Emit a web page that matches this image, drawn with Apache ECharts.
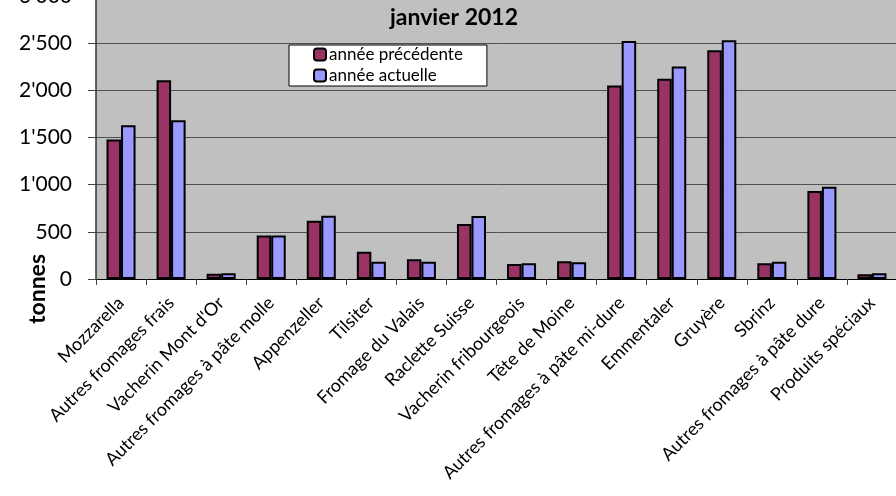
<!DOCTYPE html>
<html><head><meta charset="utf-8">
<script src="https://cdn.jsdelivr.net/npm/echarts@6/dist/echarts.min.js"></script>
<style>html,body{margin:0;padding:0;background:#fff}#c{width:896px;height:496px}</style>
</head><body><div id="c"></div>
<script>
const categories = ["Mozzarella","Autres fromages frais","Vacherin Mont d'Or","Autres fromages à pâte molle","Appenzeller","Tilsiter","Fromage du Valais","Raclette Suisse","Vacherin fribourgeois","Tête de Moine","Autres fromages à pâte mi-dure","Emmentaler","Gruyère","Sbrinz","Autres fromages à pâte dure","Produits spéciaux"];
const seriesNames = ["année précédente","année actuelle"];
const previousYear = [1480,2108,55,462,618,289,209,583,159,187,2052,2122,2426,166,932,50];
const currentYear = [1631,1684,60,462,671,183,183,667,166,177,2524,2253,2532,183,978,60];
const title = "janvier 2012";
const yAxisTitle = "tonnes";

const chart = echarts.init(document.getElementById('c'), null, {renderer:'canvas'});
const FONT = 'Lato';
function fmt(v){ return String(v).replace(/\B(?=(\d{3})+(?!\d))/g, "'"); }
chart.setOption({
  animation:false,
  backgroundColor:'#fff',
  title:{text:title,left:449,top:1,textAlign:'center',textStyle:{fontFamily:FONT,fontWeight:'bold',fontSize:23,color:'#000'}},
  legend:{
    data:seriesNames, orient:'vertical', left:289, top:45,
    backgroundColor:'#fff', borderColor:'#000', borderWidth:1,
    padding:[1,24,2,24], itemGap:4, itemWidth:12, itemHeight:12,
    textStyle:{fontFamily:FONT,fontSize:17,color:'#000',padding:[0,0,0,-2]}
  },
  grid:{left:96,right:-1,top:-4,bottom:217,show:true,backgroundColor:'#c0c0c0',borderWidth:0,containLabel:false,outerBoundsMode:'none'},
  xAxis:{
    type:'category', data:categories,
    axisLine:{lineStyle:{color:'#000',width:1}},
    axisTick:{show:true,length:6,alignWithLabel:false,lineStyle:{color:'#444'}},
    axisLabel:{rotate:45,interval:0,margin:21,fontFamily:FONT,fontSize:18,color:'#000'}
  },
  yAxis:{
    type:'value', min:0, max:3000, interval:500,
    axisLine:{show:true,lineStyle:{color:'#333',width:1.5}},
    axisTick:{show:true,length:8,lineStyle:{color:'#444'}},
    splitLine:{lineStyle:{color:'#505050',width:1}},
    axisLabel:{margin:24,fontFamily:FONT,fontSize:21,color:'#000',formatter:fmt}
  },
  graphic:[{type:'text',left:26,top:254,rotation:Math.PI/2,
    style:{text:yAxisTitle,font:'bold 23px Lato',fill:'#000'},
    originX:0,originY:0}],
  series:[
    {name:seriesNames[0],type:'bar',data:previousYear,barWidth:'29%',barGap:'0%',
     itemStyle:{color:'#993366',borderColor:'#000',borderWidth:2}},
    {name:seriesNames[1],type:'bar',data:currentYear,barWidth:'29%',barGap:'0%',
     itemStyle:{color:'#9999ff',borderColor:'#000',borderWidth:2}}
  ]
});
</script></body></html>
